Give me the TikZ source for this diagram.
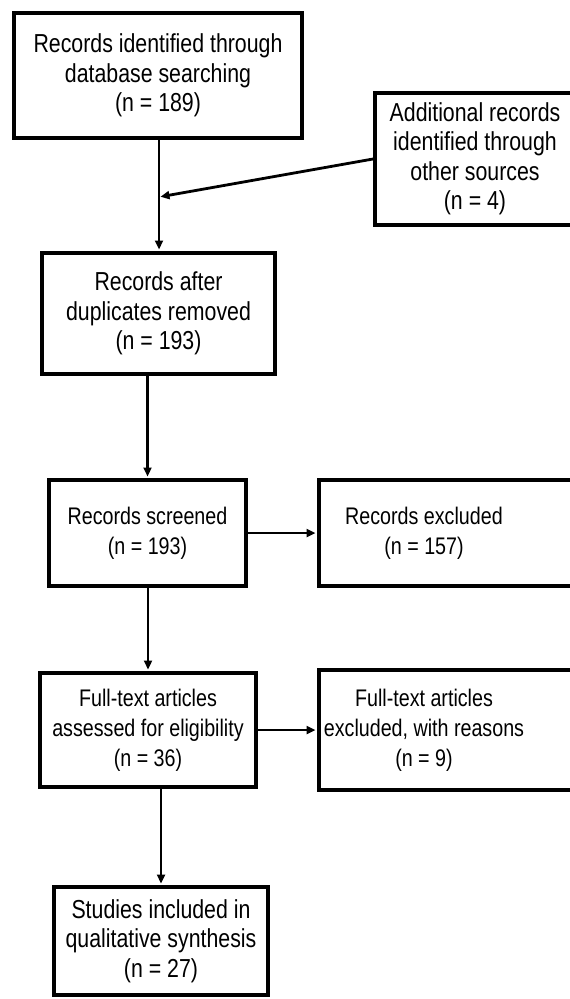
\documentclass[tikz,border=0pt]{standalone}
\usepackage{fontspec}
\setmainfont{Liberation Sans}[FakeStretch=0.82]
\usetikzlibrary{arrows.meta,positioning}

\begin{document}
\begin{tikzpicture}[
    x=1pt, y=-1pt,
    box/.style={draw, rectangle, line width=4pt, align=center, inner sep=0pt,
                font=\fontsize{26}{29.5}\selectfont},
    boxsmall/.style={box, font=\fontsize{24}{30}\selectfont},
    arrow/.style={-{Triangle[length=9pt,width=8pt]}, line width=2.8pt, shorten >=1.5pt}
  ]
    \clip (0,0) rectangle (570,999);
    \node[box, minimum width=288pt, minimum height=125pt] (search) at (158,75.5)
      {Records identified through\\database searching\\(n = 189)};
    \node[box, minimum width=200pt, minimum height=132pt] (other) at (475,159)
      {Additional records\\identified through\\other sources\\(n = 4)};
    \node[box, minimum width=233pt, minimum height=121pt] (dup) at (158.5,313.5)
      {Records after\\duplicates removed\\(n = 193)};
    \node[boxsmall, minimum width=197pt, minimum height=106pt] (screen) at (147.5,533)
      {Records screened\\(n = 193)};
    \node[boxsmall, anchor=west, minimum height=106pt] (excl) at (317,533)
      {\parbox{210pt}{\centering Records excluded\\(n = 157)}\hspace*{60pt}};
    \node[boxsmall, minimum width=216pt, minimum height=114pt] (full) at (148,730)
      {Full-text articles\\assessed for eligibility\\(n = 36)};
    \node[boxsmall, anchor=west, minimum height=120pt] (fullex) at (317,730)
      {\parbox{210pt}{\centering Full-text articles\\excluded, with reasons\\(n = 9)}\hspace*{60pt}};
    \node[box, minimum width=214pt, minimum height=108pt] (incl) at (161,941)
      {Studies included in\\qualitative synthesis\\(n = 27)};
    \coordinate (join) at (159,197);

    \draw[arrow] (search.south -| join) -- (join |- dup.north);
    \draw[arrow] (other.west) -- (join);
    \draw[arrow] (dup.south -| screen.north) -- (screen.north);
    \draw[arrow] (screen.east) -- (excl.west);
    \draw[arrow] (screen.south -| full.north) -- (full.north);
    \draw[arrow] (full.east) -- (fullex.west);
    \draw[arrow] (full.south -| incl.north) -- (incl.north);
\end{tikzpicture}
\end{document}
